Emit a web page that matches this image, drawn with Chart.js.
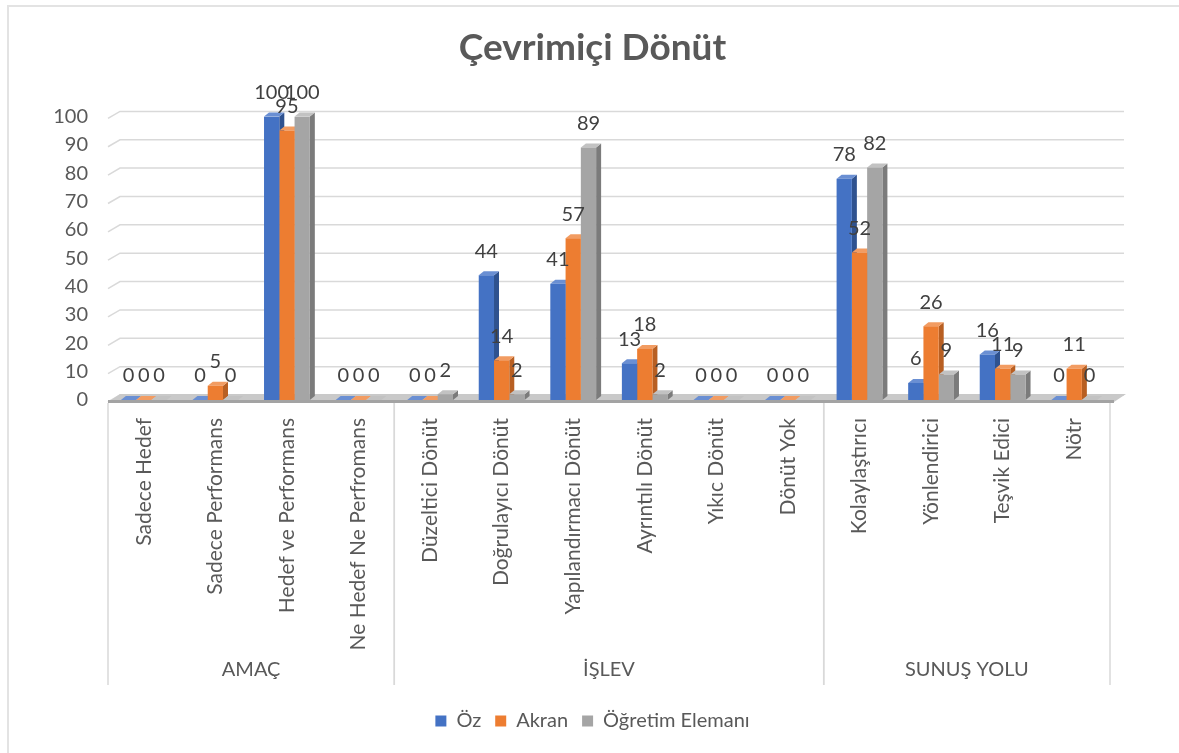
<!DOCTYPE html>
<html>
<head>
<meta charset="utf-8">
<script src="https://cdn.jsdelivr.net/npm/chart.js@4.4.1/dist/chart.umd.min.js"></script>
<style>
  html, body { margin: 0; padding: 0; background: #fff; }
  #wrap { position: absolute; left: 7px; top: 5px; width: 1172px; height: 748px;
          border-left: 2px solid #e3e3e3; border-top: 2px solid #e3e3e3; }
  canvas { position: absolute; left: -9px; top: -7px; }
</style>
</head>
<body>
<div id="wrap"><canvas id="chart" width="1179" height="753"></canvas></div>
<script>
// categories and groups
const categories = [
  "Sadece Hedef", "Sadece Performans", "Hedef ve Performans", "Ne Hedef Ne Perfromans",
  "Düzeltici Dönüt", "Doğrulayıcı Dönüt", "Yapılandırmacı Dönüt", "Ayrıntılı Dönüt", "Yıkıc Dönüt", "Dönüt Yok",
  "Kolaylaştırıcı", "Yönlendirici", "Teşvik Edici", "Nötr"
];
const groupNames = ["AMAÇ", "İŞLEV", "SUNUŞ YOLU"];
const groupSizes = [4, 6, 4];

// series values
const ozValues = [0, 0, 100, 0, 0, 44, 41, 13, 0, 0, 78, 6, 16, 0];
const akranValues = [0, 5, 95, 0, 0, 14, 57, 18, 0, 0, 52, 26, 11, 11];
const ogretimValues = [0, 0, 100, 0, 2, 2, 89, 2, 0, 0, 82, 9, 9, 0];

const yTicks = [0, 10, 20, 30, 40, 50, 60, 70, 80, 90, 100];

const FONT = "Lato";
const TEXT = "#595959";

// front, side, top colours per series
const shades = [
  ["#4472C4", "#2F528F", "#6A8FD3"],
  ["#ED7D31", "#B85F22", "#F29C62"],
  ["#A5A5A5", "#7B7B7B", "#C2C2C2"]
];
const DX = 5, DY = 4;

// floor, back-wall gridlines and 3d faces, drawn under the bars
const threeD = {
  id: "threeD",
  beforeDatasetsDraw(chart) {
    const ctx = chart.ctx;
    const a = chart.chartArea;
    const y = chart.scales.y;
    ctx.save();
    // back wall gridlines
    ctx.strokeStyle = "#d9d9d9";
    ctx.lineWidth = 1.5;
    yTicks.forEach(t => {
      const py = y.getPixelForValue(t);
      ctx.beginPath();
      ctx.moveTo(a.left, py + 2);
      ctx.lineTo(a.left + 12, py - 5);
      ctx.lineTo(a.right + 14, py - 5);
      ctx.stroke();
    });
    // floor
    ctx.fillStyle = "#c9c9c9";
    ctx.beginPath();
    ctx.moveTo(a.left, a.bottom + 2);
    ctx.lineTo(a.left + 12, a.bottom - 6);
    ctx.lineTo(a.right + 16, a.bottom - 6);
    ctx.lineTo(a.right + 4, a.bottom + 2);
    ctx.closePath();
    ctx.fill();
    ctx.fillStyle = "#a3a3a3";
    ctx.fillRect(a.left, a.bottom, a.right - a.left + 4, 3);
    // bar side and top faces
    chart.data.datasets.forEach((ds, di) => {
      const meta = chart.getDatasetMeta(di);
      meta.data.forEach(el => {
        const l = el.x - el.width / 2, r = el.x + el.width / 2;
        const top = el.y, base = el.base;
        ctx.fillStyle = shades[di][1];
        ctx.beginPath();
        ctx.moveTo(r, top);
        ctx.lineTo(r + DX, top - DY);
        ctx.lineTo(r + DX, base - DY);
        ctx.lineTo(r, base);
        ctx.closePath();
        ctx.fill();
        ctx.fillStyle = shades[di][2];
        ctx.beginPath();
        ctx.moveTo(l, top);
        ctx.lineTo(l + DX, top - DY);
        ctx.lineTo(r + DX, top - DY);
        ctx.lineTo(r, top);
        ctx.closePath();
        ctx.fill();
      });
    });
    ctx.restore();
  },
  afterDatasetsDraw(chart) {
    const ctx = chart.ctx;
    ctx.save();
    ctx.font = "20px " + FONT;
    ctx.fillStyle = "#404040";
    ctx.textAlign = "center";
    ctx.textBaseline = "middle";
    chart.data.datasets.forEach((ds, di) => {
      chart.getDatasetMeta(di).data.forEach((el, i) => {
        ctx.fillText(String(ds.data[i]), el.x, el.y - 24);
      });
    });
    ctx.restore();
  }
};

// group separators and group names under the category labels
const groups = {
  id: "groups",
  afterDraw(chart) {
    const ctx = chart.ctx;
    const a = chart.chartArea;
    const x = chart.scales.x;
    const yEnd = 685, yText = 670;
    const edge = i => {
      if (i <= 0) return a.left;
      if (i >= categories.length) return a.right;
      return (x.getPixelForValue(i - 1) + x.getPixelForValue(i)) / 2;
    };
    ctx.save();
    ctx.strokeStyle = "#d9d9d9";
    ctx.lineWidth = 1.5;
    ctx.font = "20px " + FONT;
    ctx.fillStyle = TEXT;
    ctx.textAlign = "center";
    ctx.textBaseline = "middle";
    let start = 0;
    groupSizes.forEach((n, g) => {
      const x0 = edge(start), x1 = edge(start + n);
      ctx.beginPath();
      ctx.moveTo(x0, a.bottom + 3);
      ctx.lineTo(x0, yEnd);
      ctx.moveTo(x1, a.bottom + 3);
      ctx.lineTo(x1, yEnd);
      ctx.stroke();
      ctx.fillText(groupNames[g], (x0 + x1) / 2, yText);
      start += n;
    });
    ctx.restore();
  }
};

new Chart(document.getElementById("chart"), {
  type: "bar",
  data: {
    labels: categories,
    datasets: [
      { label: "Öz", data: ozValues, backgroundColor: shades[0][0] },
      { label: "Akran", data: akranValues, backgroundColor: shades[1][0] },
      { label: "Öğretim Elemanı", data: ogretimValues, backgroundColor: shades[2][0] }
    ]
  },
  options: {
    responsive: false,
    animation: false,
    layout: { padding: { top: 14, left: 16, right: 10, bottom: 12 } },
    datasets: { bar: { categoryPercentage: 0.64, barPercentage: 1 } },
    scales: {
      x: {
        grid: { display: false },
        border: { display: false },
        ticks: {
          color: TEXT, font: { family: FONT, size: 21 },
          maxRotation: 90, minRotation: 90, autoSkip: false, padding: 10
        },
        afterFit(s) { s.height = 297; }
      },
      y: {
        min: 0, max: 100,
        grid: { display: false, drawTicks: false },
        border: { display: false },
        ticks: {
          stepSize: 10, color: TEXT, padding: 20,
          font: { family: FONT, size: 20 }
        },
        afterFit(s) { s.width = 92; }
      },
      // empty right-hand space so the title and legend sit centred
      spacer: {
        position: "right",
        grid: { display: false },
        border: { display: false },
        ticks: { display: false },
        afterFit(s) { s.width = 59; }
      }
    },
    plugins: {
      title: {
        display: true, text: "Çevrimiçi Dönüt", color: TEXT,
        font: { family: FONT, size: 37, weight: "bold" },
        padding: { top: 12, bottom: 46 }
      },
      legend: {
        position: "bottom",
        labels: {
          color: TEXT, font: { family: FONT, size: 20 },
          boxWidth: 11, boxHeight: 11, padding: 14
        }
      },
      tooltip: { enabled: false }
    }
  },
  plugins: [threeD, groups]
});
</script>
</body>
</html>
